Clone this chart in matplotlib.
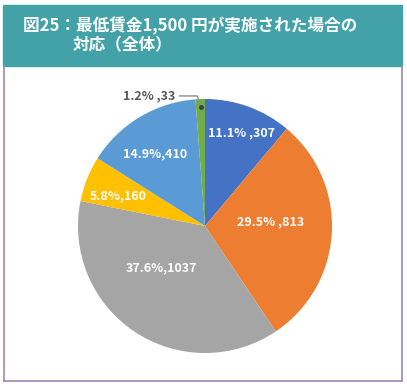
import matplotlib
matplotlib.use("Agg")
import matplotlib.pyplot as plt
from matplotlib.patches import Rectangle
from matplotlib.lines import Line2D

plt.rcParams["font.family"] = ["Noto Sans CJK JP", "DejaVu Sans"]

# データ (時計回り、12時の位置から)
counts = [307, 813, 1037, 160, 410, 33]
pcts = ["11.1%", "29.5%", "37.6%", "5.8%", "14.9%", "1.2%"]
label_texts = ["11.1% ,307", "29.5% ,813", "37.6%,1037", "5.8%,160", "14.9%,410", "1.2% ,33"]
colors = ["#4472C4", "#ED7D31", "#A5A5A5", "#FFC000", "#5B9BD5", "#70AD47"]

title_line1 = "図25：最低賃金1,500 円が実施された場合の"
title_line2 = "対応（全体）"

W, H = 407, 384
fig = plt.figure(figsize=(W / 100, H / 100), dpi=100)
fig.patch.set_facecolor("white")

# ヘッダー帯
fig.patches.append(Rectangle((3 / W, 1 - 66 / H), 399 / W, 61 / H,
                             transform=fig.transFigure, color="#43A2A8", zorder=0))
# 枠線
border = "#9E86B4"
fig.lines.append(Line2D([3.5 / W, 3.5 / W], [1 - 66 / H, 1 - 381 / H], color=border, lw=1.2,
                        transform=fig.transFigure))
fig.lines.append(Line2D([401.5 / W, 401.5 / W], [1 - 66 / H, 1 - 381 / H], color=border, lw=1.2,
                        transform=fig.transFigure))
fig.lines.append(Line2D([3.5 / W, 401.5 / W], [1 - 381 / H, 1 - 381 / H], color=border, lw=1.2,
                        transform=fig.transFigure))

fig.text(23 / W, 1 - 26 / H, title_line1, color="white", fontsize=12, fontweight="bold",
         va="center", ha="left")
fig.text(73 / W, 1 - 45 / H, title_line2, color="white", fontsize=12, fontweight="bold",
         va="center", ha="left")

# 円グラフ
cx, cy, r = 205, 226, 127
ax = fig.add_axes([(cx - r) / W, (H - cy - r) / H, 2 * r / W, 2 * r / H])
ax.pie(counts, colors=colors, startangle=90, counterclock=False, radius=1,
       wedgeprops=dict(linewidth=0))
ax.set_xlim(-1, 1)
ax.set_ylim(-1, 1)
ax.set_aspect("equal")
ax.axis("off")

label_pos = [(0.29, 0.73), (0.52, 0.03), (-0.34, -0.33), (-0.68, 0.24), (-0.39, 0.57)]
for (x, y), txt in zip(label_pos, label_texts[:5]):
    ax.text(x, y, txt, color="white", fontsize=9, fontweight="bold", ha="center", va="center")

# 1.2% の引き出し線
ax.text(-0.23, 1.024, label_texts[5], color="#595959", fontsize=9, fontweight="bold",
        ha="right", va="center", clip_on=False)
ax.plot([-0.2, -0.06, -0.034], [1.024, 1.024, 0.94], color="#8C8C8C", lw=1, clip_on=False)
ax.plot([-0.034], [0.94], "o", color="#404040", ms=2.5, clip_on=False)

fig.savefig("out.png", dpi=100)
